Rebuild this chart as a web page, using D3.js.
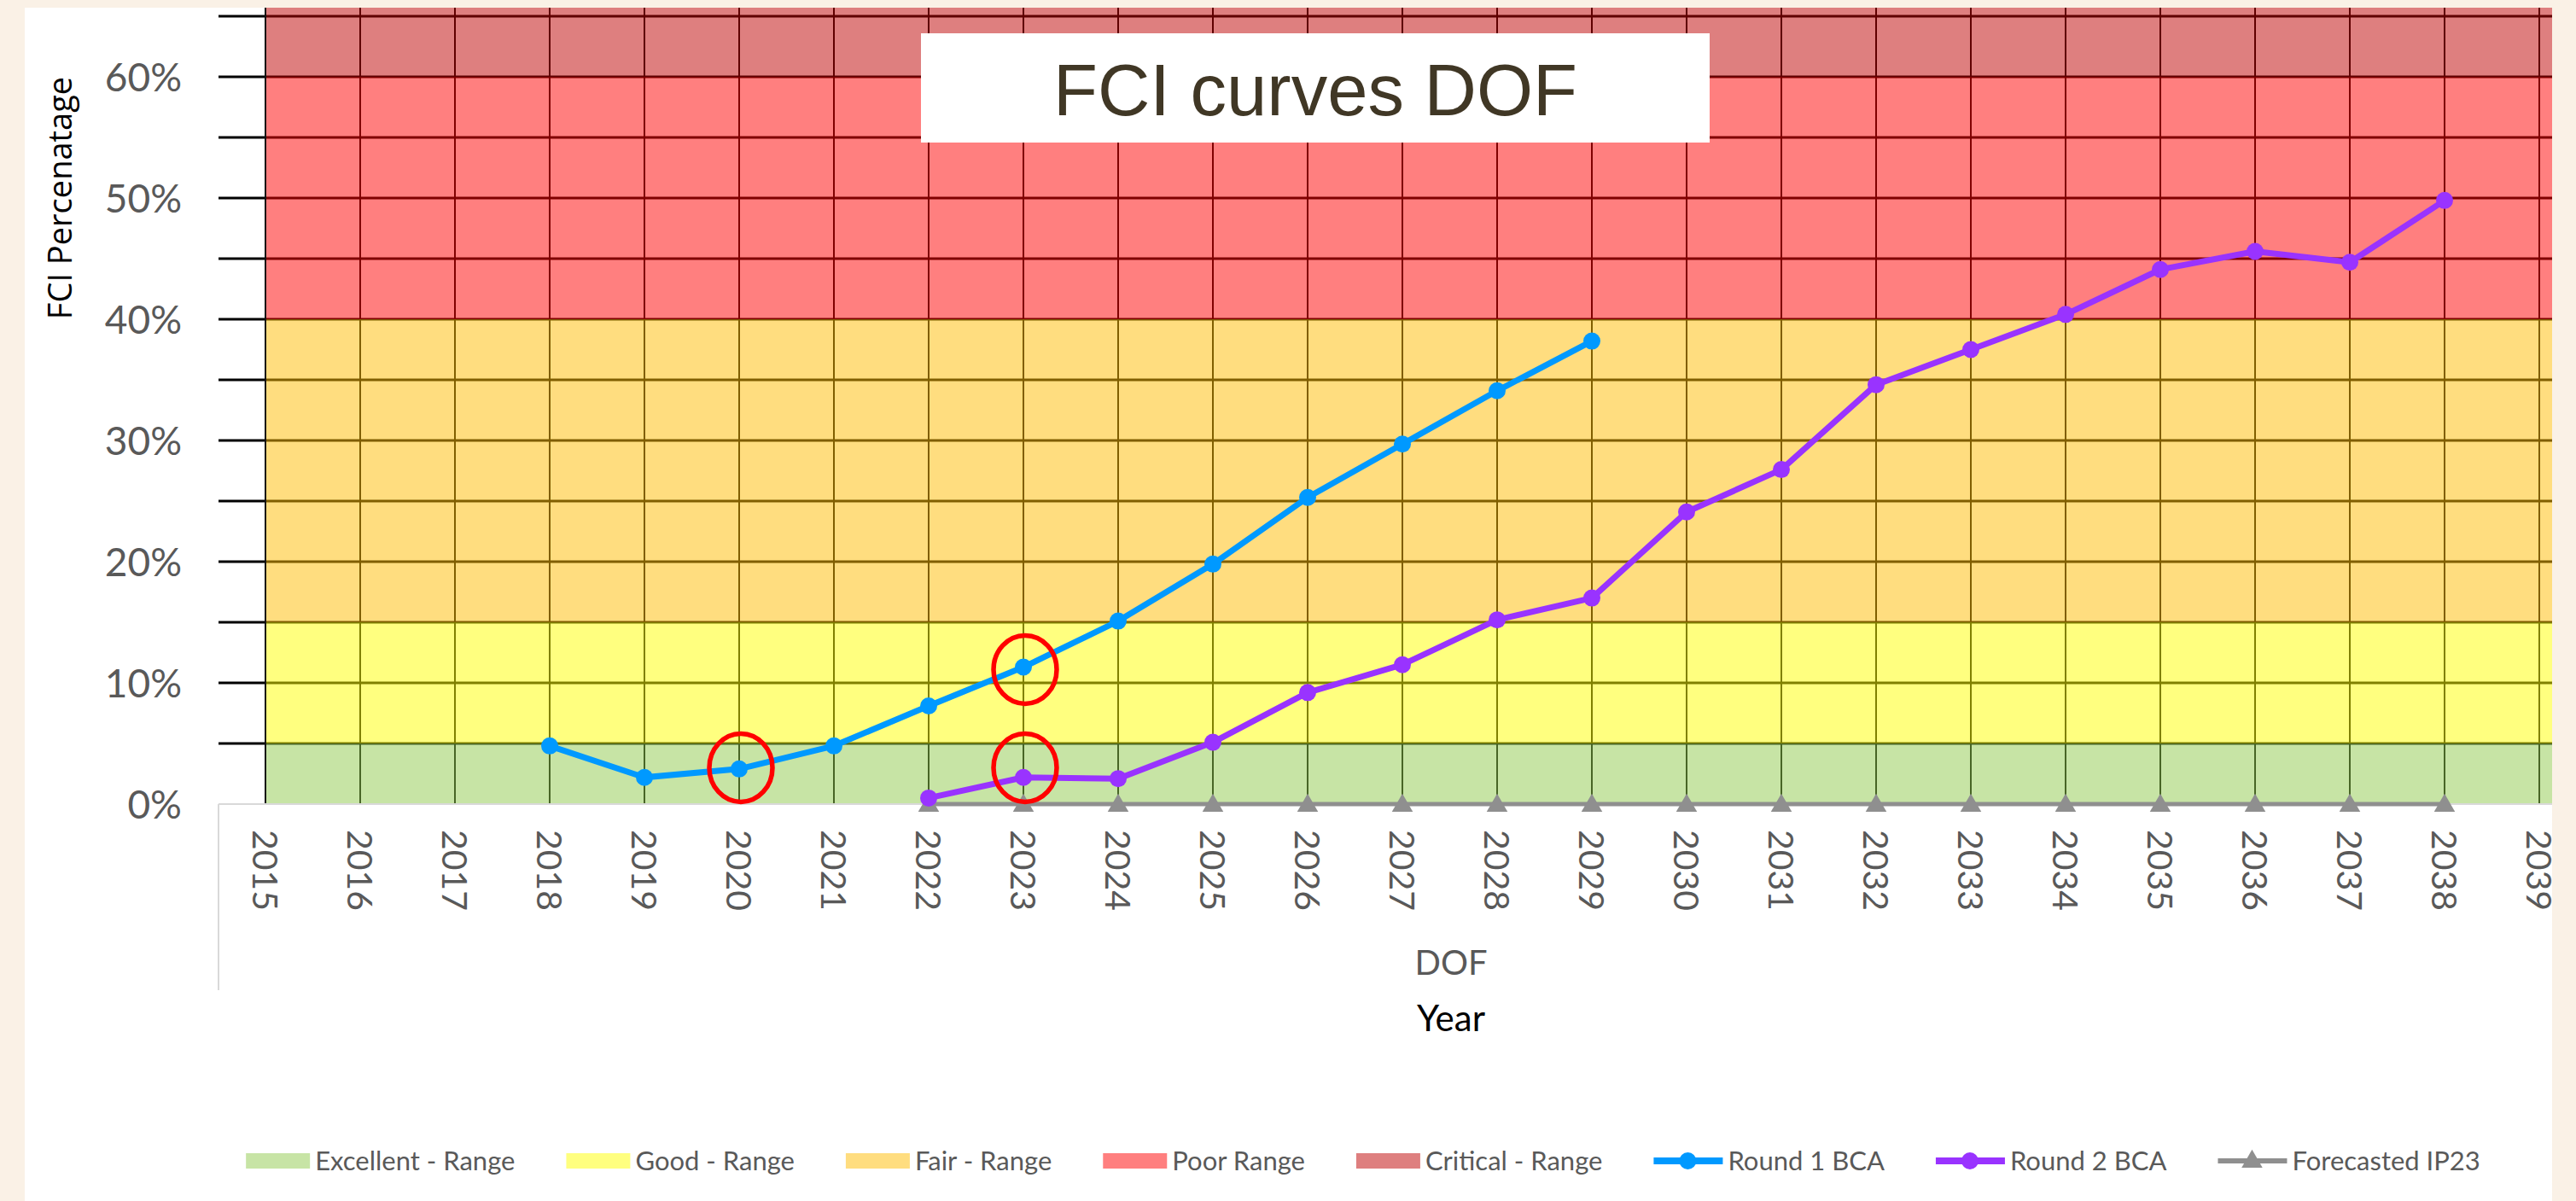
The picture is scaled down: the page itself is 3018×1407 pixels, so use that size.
<!DOCTYPE html>
<html>
<head>
<meta charset="utf-8">
<script src="https://cdn.jsdelivr.net/npm/d3@7"></script>
<style>
body { margin: 0; background: #faf1e6; }
</style>
</head>
<body>
<div id="viz"></div>
<script>
// categories
var years = [2015, 2016, 2017, 2018, 2019, 2020, 2021, 2022, 2023, 2024, 2025, 2026,
             2027, 2028, 2029, 2030, 2031, 2032, 2033, 2034, 2035, 2036, 2037, 2038, 2039];

// series
var round1Years  = [2018, 2019, 2020, 2021, 2022, 2023, 2024, 2025, 2026, 2027, 2028, 2029];
var round1Values = [0.048, 0.022, 0.029, 0.048, 0.081, 0.113, 0.151, 0.198, 0.253, 0.297, 0.341, 0.382];

var round2Years  = [2022, 2023, 2024, 2025, 2026, 2027, 2028, 2029, 2030, 2031, 2032, 2033, 2034, 2035, 2036, 2037, 2038];
var round2Values = [0.005, 0.022, 0.021, 0.051, 0.092, 0.115, 0.152, 0.170, 0.241, 0.276, 0.346, 0.375, 0.404, 0.441, 0.456, 0.447, 0.498];

var forecastYears  = [2022, 2023, 2024, 2025, 2026, 2027, 2028, 2029, 2030, 2031, 2032, 2033, 2034, 2035, 2036, 2037, 2038];
var forecastValues = [0, 0, 0, 0, 0, 0, 0, 0, 0, 0, 0, 0, 0, 0, 0, 0, 0];

// condition ranges
var bandNames  = ["Excellent - Range", "Good - Range", "Fair - Range", "Poor Range", "Critical - Range"];
var bandLower  = [0, 0.05, 0.15, 0.40, 0.60];
var bandUpper  = [0.05, 0.15, 0.40, 0.60, 1.00];

// axis ticks
var yLabelTicks = [0, 0.1, 0.2, 0.3, 0.4, 0.5, 0.6];
var yGridTicks  = [0.05, 0.1, 0.15, 0.2, 0.25, 0.3, 0.35, 0.4, 0.45, 0.5, 0.55, 0.6, 0.65];

// red circle call-outs
var calloutYears  = [2020, 2023, 2023];
var calloutValues = [0.030, 0.111, 0.030];

var width = 3018,
    height = 1407,
    plotLeft = 311, plotRight = 2990,
    plotTop = 9, plotBottom = 942;

var bandColors = ["#8fc94b", "#ffff00", "#ffbb00", "#ff0000", "#bd0000"];
var blue = "#0099ff", purple = "#9933ff", grey = "#8f8f8f";
var txtGrey = "#595959";

var x = d3.scaleLinear().domain([2015, 2039]).range([311, 2975]);
var y = d3.scaleLinear().domain([0, 0.6]).range([942, 90]);

var svg = d3.select("#viz").append("svg")
    .attr("width", width)
    .attr("height", height)
    .style("display", "block");

// white panel
svg.append("rect")
    .attr("x", 29).attr("y", 9)
    .attr("width", plotRight - 29).attr("height", height - 9)
    .attr("fill", "#fff");

svg.append("clipPath").attr("id", "plotclip")
    .append("rect")
    .attr("x", plotLeft).attr("y", plotTop)
    .attr("width", plotRight - plotLeft).attr("height", plotBottom - plotTop);

// black grid (sits under the translucent bands)
svg.append("g").selectAll("line")
    .data(yGridTicks)
    .enter().append("line")
    .attr("x1", 256).attr("x2", plotRight)
    .attr("y1", d => y(d)).attr("y2", d => y(d))
    .style("stroke", "#000")
    .style("stroke-width", 3);

svg.append("g").selectAll("line")
    .data(years.slice(1))
    .enter().append("line")
    .attr("x1", d => x(d)).attr("x2", d => x(d))
    .attr("y1", plotTop).attr("y2", plotBottom)
    .style("stroke", "#000")
    .style("stroke-width", 2);

// range bands
svg.append("g").attr("clip-path", "url(#plotclip)")
    .selectAll("rect")
    .data(bandNames)
    .enter().append("rect")
    .attr("x", plotLeft)
    .attr("width", plotRight - plotLeft)
    .attr("y", (d, i) => y(bandUpper[i]))
    .attr("height", (d, i) => y(bandLower[i]) - y(bandUpper[i]))
    .style("fill", (d, i) => bandColors[i])
    .style("opacity", 0.5);

// y axis line
svg.append("line")
    .attr("x1", plotLeft).attr("x2", plotLeft)
    .attr("y1", plotTop).attr("y2", plotBottom)
    .style("stroke", "#111")
    .style("stroke-width", 2);

// x axis box
svg.append("line")
    .attr("x1", 256).attr("x2", plotRight)
    .attr("y1", plotBottom).attr("y2", plotBottom)
    .style("stroke", "#d9d9d9").style("stroke-width", 2);
svg.append("line")
    .attr("x1", 256).attr("x2", 256)
    .attr("y1", plotBottom).attr("y2", 1160)
    .style("stroke", "#d9d9d9").style("stroke-width", 2);

// y tick labels
svg.append("g").selectAll("text")
    .data(yLabelTicks)
    .enter().append("text")
    .attr("x", 213)
    .attr("y", d => y(d))
    .attr("dy", "0.36em")
    .attr("text-anchor", "end")
    .style("font-family", "Lato, 'Open Sans', sans-serif")
    .style("font-size", "46px")
    .style("fill", txtGrey)
    .text(d3.format(".0%"));

// x tick labels, rotated
svg.append("g").selectAll("text")
    .data(years)
    .enter().append("text")
    .attr("transform", d => "translate(" + x(d) + ",972) rotate(90)")
    .attr("dy", "0.36em")
    .style("font-family", "Lato, 'Open Sans', sans-serif")
    .style("font-size", "41px")
    .style("fill", txtGrey)
    .text(d => d);

// axis titles
svg.append("text")
    .attr("transform", "translate(84,232) rotate(-90)")
    .attr("text-anchor", "middle")
    .style("font-family", "'Open Sans', sans-serif")
    .style("font-size", "38px")
    .style("fill", "#000")
    .text("FCI Percenatage");

svg.append("text")
    .attr("x", 1700).attr("y", 1142)
    .attr("text-anchor", "middle")
    .style("font-family", "Lato, sans-serif")
    .style("font-size", "40px")
    .style("fill", txtGrey)
    .text("DOF");

svg.append("text")
    .attr("x", 1700).attr("y", 1208)
    .attr("text-anchor", "middle")
    .style("font-family", "Lato, sans-serif")
    .style("font-size", "42px")
    .style("fill", "#000")
    .text("Year");

// series
var line = d3.line().x(d => x(d[0])).y(d => y(d[1]));

var series = [
    { pts: d3.zip(forecastYears, forecastValues), color: grey, w: 5, shape: "tri" },
    { pts: d3.zip(round1Years, round1Values), color: blue, w: 7, shape: "dot" },
    { pts: d3.zip(round2Years, round2Values), color: purple, w: 7, shape: "dot" }
];

var tri = d3.symbol().type(d3.symbolTriangle).size(260);

series.forEach(function(s) {
    var g = svg.append("g");
    g.append("path")
        .attr("d", line(s.pts))
        .style("fill", "none")
        .style("stroke", s.color)
        .style("stroke-width", s.w)
        .style("stroke-linejoin", "round");
    if (s.shape == "dot") {
        g.selectAll("circle")
            .data(s.pts)
            .enter().append("circle")
            .attr("cx", d => x(d[0]))
            .attr("cy", d => y(d[1]))
            .attr("r", 10)
            .style("fill", s.color);
    } else {
        g.selectAll("path.mk")
            .data(s.pts)
            .enter().append("path")
            .attr("class", "mk")
            .attr("d", tri)
            .attr("transform", d => "translate(" + x(d[0]) + "," + (y(d[1]) + 2) + ")")
            .style("fill", s.color);
    }
});

// call-out circles
svg.append("g").selectAll("ellipse")
    .data(d3.zip(calloutYears, calloutValues))
    .enter().append("ellipse")
    .attr("cx", d => x(d[0]) + 2)
    .attr("cy", d => y(d[1]))
    .attr("rx", 37)
    .attr("ry", 40)
    .style("fill", "none")
    .style("stroke", "#ff0000")
    .style("stroke-width", 5.5);

// title box
svg.append("rect")
    .attr("x", 1079).attr("y", 39)
    .attr("width", 924).attr("height", 128)
    .style("fill", "#fff");
svg.append("text")
    .attr("x", 1541).attr("y", 135)
    .attr("text-anchor", "middle")
    .style("font-family", "'Liberation Sans', Arial, sans-serif")
    .style("font-size", "85px")
    .style("fill", "#403725")
    .text("FCI curves DOF");

// legend
var legendItems = bandNames.map(function(n, i) { return { label: n, kind: "box", color: bandColors[i] }; })
    .concat([
        { label: "Round 1 BCA", kind: "dot", color: blue },
        { label: "Round 2 BCA", kind: "dot", color: purple },
        { label: "Forecasted IP23", kind: "tri", color: grey }
    ]);

var legend = svg.append("g");
var lx = 0, ly = 1360;
legendItems.forEach(function(d) {
    var g = legend.append("g").attr("transform", "translate(" + lx + ",0)");
    var keyW = 75;
    if (d.kind == "box") {
        g.append("rect")
            .attr("x", 0).attr("y", ly - 9)
            .attr("width", keyW).attr("height", 18)
            .style("fill", d.color).style("opacity", 0.5);
    } else {
        keyW = 81;
        g.append("line")
            .attr("x1", 0).attr("x2", keyW)
            .attr("y1", ly).attr("y2", ly)
            .style("stroke", d.color)
            .style("stroke-width", d.kind == "tri" ? 6 : 8);
        if (d.kind == "dot") {
            g.append("circle").attr("cx", 40).attr("cy", ly).attr("r", 10).style("fill", d.color);
        } else {
            g.append("path").attr("d", tri).attr("transform", "translate(40," + (ly + 1) + ")").style("fill", d.color);
        }
    }
    var t = g.append("text")
        .attr("x", keyW + 6).attr("y", ly)
        .attr("dy", "0.36em")
        .style("font-family", "Lato, sans-serif")
        .style("font-size", "31px")
        .style("fill", txtGrey)
        .text(d.label);
    lx += keyW + 6 + t.node().getComputedTextLength() + 60;
});
var legendW = lx - 60;
legend.attr("transform", "translate(" + (1597 - legendW / 2) + ",0)");
</script>
</body>
</html>
